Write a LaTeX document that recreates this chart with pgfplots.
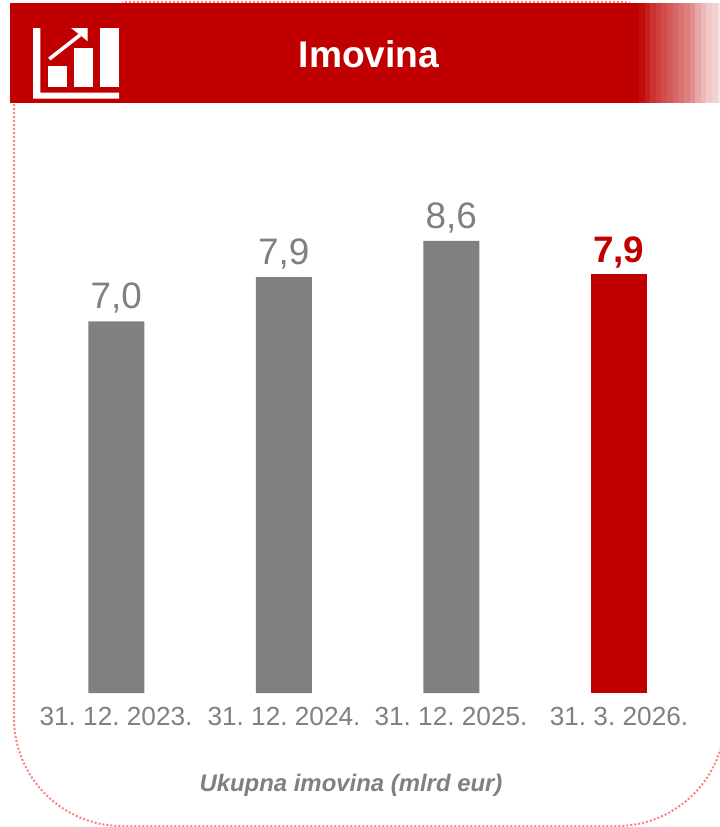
\documentclass[border=0pt]{standalone}
\usepackage{fontspec}
\setmainfont{Liberation Sans}
\usepackage{pgfplots}
\pgfplotsset{compat=1.18}
\definecolor{hdr}{HTML}{C00000}
\definecolor{gry}{HTML}{808080}
\definecolor{dotc}{HTML}{FF8080}
\begin{document}
\frenchspacing
\begin{tikzpicture}[x=1bp,y=-1bp]
\useasboundingbox (0,0) rectangle (720,827);
\fill[white] (0,0) rectangle (720,827);
\begin{scope}
\clip (0,0) rectangle (720,827);
\draw[dotc,line width=2bp,dash pattern=on 2bp off 2bp,line cap=butt]
  (14,104) -- (14,718) arc[start angle=180,end angle=90,x radius=108bp,y radius=-108bp]
  -- (617,826) arc[start angle=90,end angle=0,x radius=108bp,y radius=-108bp]
  -- (725,110) arc[start angle=0,end angle=-90,x radius=108bp,y radius=-108bp]
  -- (122,2);
\fill[white] (630,0) rectangle (720,103);
\fill[hdr] (10,3) rectangle (639,103);
\foreach \a/\b/\o in {639/645/95,645/650/88,650/656/80,656/661/76,661/667/70,667/673/65,673/678/60,678/684/55,684/690/50,690/695/44,695/701/35,701/706/28,706/712/22,712/718/18,718/720/10}{
  \fill[hdr,opacity=0.\o] (\a,3) rectangle (\b,103);
}
% icon
\fill[white] (33,28) -- (40.3,28) -- (40.3,92.7) -- (119,92.7) -- (119,98.7) -- (33,98.7) -- cycle;
\fill[white] (48,66) rectangle (67,86.7);
\fill[white] (74,48.3) rectangle (92.7,86.7);
\fill[white] (100.3,28) rectangle (119,86.7);
\draw[white,line width=3.6bp] (49.3,59) -- (80,35);
\fill[white] (71,28) -- (87.7,28) -- (87.7,41.3) -- (80,35) -- cycle;
\node[text=white,font=\fontsize{37.3}{37.3}\selectfont\bfseries,anchor=center] at (369,54) {Imovina};
\node[text=gry,font=\fontsize{24}{24}\selectfont\bfseries\itshape,anchor=center] at (351,785) {Ukupna imovina (mlrd eur)};
\end{scope}
\begin{axis}[
  at={(32.5bp,-693bp)}, anchor=south west, scale only axis,
  width=670bp, height=525bp,
  xmin=-0.5, xmax=3.5, ymin=0, ymax=10,
  axis lines=none, clip=false,
  ybar, bar width=56bp, bar shift=0pt,
  xtick=\empty, ytick=\empty,
  point meta=explicit symbolic,
  nodes near coords,
  nodes near coords style={anchor=south, inner sep=0pt, yshift=7.5bp},
]
\addplot[draw=none, fill=gry, text=gry,
  nodes near coords style={font=\fontsize{37}{37}\selectfont, text=gry}]
  table[meta=l] {
x y l
0 7.08 7,0
1 7.92 7,9
2 8.61 8,6
};
\addplot[draw=none, fill=hdr,
  nodes near coords style={font=\fontsize{37}{37}\selectfont\bfseries, text=hdr, yshift=-2bp}]
  table[meta=l] {
x y l
3 7.98 7,9
};
\end{axis}
\foreach \x/\t in {116/31. 12. 2023.,284/31. 12. 2024.,451/31. 12. 2025.,619/31. 3. 2026.}{
  \node[text=gry,font=\fontsize{26.3}{26.3}\selectfont,anchor=center] at (\x,716) {\t};
}
\end{tikzpicture}
\end{document}
